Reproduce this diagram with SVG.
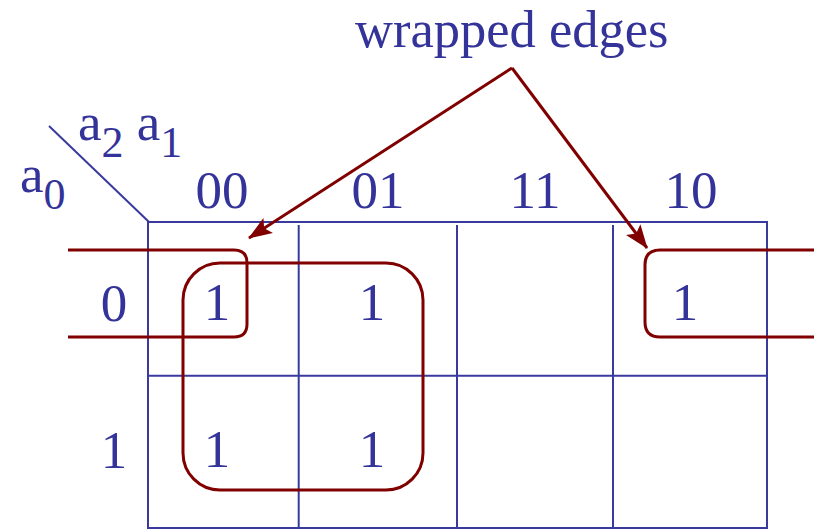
<svg xmlns="http://www.w3.org/2000/svg" width="814" height="529" viewBox="0 0 814 529">
<style>
.t{font-family:"Liberation Serif","Times New Roman",serif;fill:#333399;font-size:53px}
.s{font-size:44px}
.h{font-size:52.5px}
.g{stroke:#3a3a9e;stroke-width:2;fill:none}
.r{stroke:#800000;stroke-width:3;fill:none}
</style>
<defs>
<marker id="a" viewBox="0 0 24 18" refX="23" refY="9" markerWidth="24" markerHeight="18" markerUnits="userSpaceOnUse" orient="auto">
<path d="M0,0 L24,9 L0,18 L5,9 z" fill="#800000"/>
</marker>
</defs>
<g id="grid">
<path class="g" d="M148,222 H767 V528 H148 Z"/>
<path class="g" d="M298.7,225 V528 M457,225 V528 M613,225 V528 M148,375.7 H767"/>
<path class="g" d="M49,126 L149,222"/>
</g>
<g id="labels">
<text class="t h" x="355" y="47">wrapped edges</text>
<text class="t" x="78" y="140">a<tspan class="s" dy="17">2</tspan><tspan dy="-17"> a</tspan><tspan class="s" dy="17">1</tspan></text>
<text class="t" x="20" y="192">a<tspan class="s" dy="17">0</tspan></text>
<text class="t" x="222" y="208" text-anchor="middle">00</text>
<text class="t" x="378" y="208" text-anchor="middle">01</text>
<text class="t" x="535" y="208" text-anchor="middle">11</text>
<text class="t" x="691" y="208" text-anchor="middle">10</text>
<text class="t" x="114" y="321" text-anchor="middle">0</text>
<text class="t" x="114" y="468" text-anchor="middle">1</text>
</g>
<g id="cells">
<text class="t" x="217" y="320" text-anchor="middle">1</text>
<text class="t" x="372" y="320" text-anchor="middle">1</text>
<text class="t" x="685" y="320" text-anchor="middle">1</text>
<text class="t" x="217" y="467" text-anchor="middle">1</text>
<text class="t" x="372" y="467" text-anchor="middle">1</text>
</g>
<g id="groups">
<rect id="quad" class="r" x="183" y="263" width="240" height="227" rx="37" ry="37"/>
<path id="wrapL" class="r" d="M68,250 H234 Q247,250 247,263 V324 Q247,337 234,337 H68"/>
<path id="wrapR" class="r" d="M814,250 H660 Q645,250 645,265 V322 Q645,337 660,337 H814"/>
</g>
<g id="connectors">
<path class="r" d="M512,68 L249,238" marker-end="url(#a)"/>
<path class="r" d="M512,68 L647,248" marker-end="url(#a)"/>
</g>
</svg>
